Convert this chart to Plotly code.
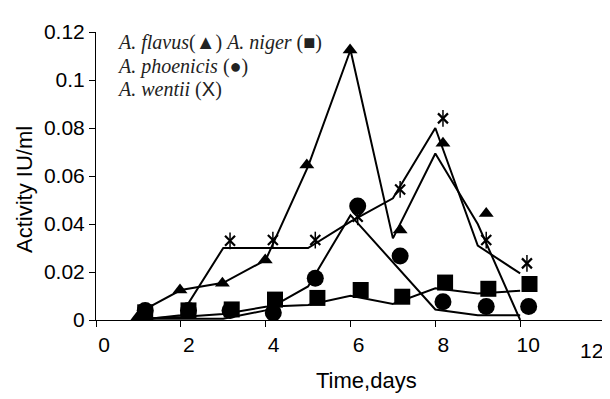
import plotly.graph_objects as go

# ---- data ----
days = [1, 2, 3, 4, 5, 6, 7, 8, 9, 10]

# connecting lines (one value per day)
flavus_line = [0.003, 0.0125, 0.0155, 0.025, 0.064, 0.1125, 0.034, 0.0694, 0.040, 0.0]
niger_line = [0.0005, 0.0012, 0.0025, 0.0055, 0.0063, 0.0101, 0.0067, 0.0132, 0.011, 0.0122]
phoenicis_line = [0.0005, 0.0005, 0.0005, 0.004, 0.014, 0.0437, 0.024, 0.0044, 0.002, 0.002]
wentii_line = [0.0, 0.002, 0.030, 0.030, 0.030, 0.041, 0.0507, 0.080, 0.031, 0.0194]

# plotted symbols (as positioned in the original figure)
flavus_mx = [0.96, 1.98, 2.98, 3.99, 4.97, 5.99, 7.17, 8.18, 9.2]
flavus_my = [0.0007, 0.0125, 0.0153, 0.025, 0.0646, 0.1125, 0.0375, 0.0736, 0.0444]
niger_mx = [1.16, 2.18, 3.2, 4.22, 5.22, 6.24, 7.22, 8.23, 9.25, 10.22]
niger_my = [0.0032, 0.004, 0.0044, 0.0085, 0.0092, 0.0125, 0.0097, 0.0156, 0.013, 0.015]
phoenicis_mx = [1.16, 2.18, 3.16, 4.18, 5.17, 6.17, 7.17, 8.18, 9.2, 10.2]
phoenicis_my = [0.004, 0.004, 0.004, 0.003, 0.0174, 0.0475, 0.0267, 0.0076, 0.0056, 0.0056]
wentii_mx = [3.16, 4.17, 5.17, 6.17, 7.17, 8.18, 9.2, 10.16]
wentii_my = [0.033, 0.0333, 0.0333, 0.043, 0.0544, 0.084, 0.0333, 0.0236]

x_ticks = [0, 2, 4, 6, 8, 10, 12]
x_ticktext = ["0", "2", "4", "6", "8", "10", ""]
y_ticks = [0, 0.02, 0.04, 0.06, 0.08, 0.1, 0.12]
y_ticktext = ["0", "0.02", "0.04", "0.06", "0.08", "0.1", "0.12"]

legend_lines = [
    "<i>A. flavus</i>(▲) <i>A. niger</i> (■)",
    "<i>A. phoenicis</i> (●)",
    "<i>A. wentii</i> (<span style='font-family:Liberation Sans'>X</span>)",
]

BLACK = "black"
fig = go.Figure()

for ys in [flavus_line, niger_line, phoenicis_line, wentii_line]:
    fig.add_trace(go.Scatter(x=days, y=ys, mode="lines",
                             line=dict(color=BLACK, width=2), hoverinfo="skip"))

fig.add_trace(go.Scatter(x=phoenicis_mx, y=phoenicis_my, mode="markers",
                         marker=dict(symbol="circle", size=17, color=BLACK)))
fig.add_trace(go.Scatter(x=niger_mx, y=niger_my, mode="markers",
                         marker=dict(symbol="square", size=16, color=BLACK)))
fig.add_trace(go.Scatter(x=flavus_mx, y=flavus_my, mode="markers",
                         marker=dict(symbol="triangle-up", size=13, color=BLACK)))
fig.add_trace(go.Scatter(x=wentii_mx, y=wentii_my, mode="markers",
                         marker=dict(symbol="x-thin-open", size=10, color=BLACK,
                                     line=dict(color=BLACK, width=2.2))))
fig.add_trace(go.Scatter(x=wentii_mx, y=wentii_my, mode="markers",
                         marker=dict(symbol="line-ns-open", size=12, color=BLACK,
                                     line=dict(color=BLACK, width=1.5))))

# page has an 8px body margin; work in reference pixels and compensate
OFF = 8
W, H = 610 - OFF, 399 - OFF
PL, PR, PT, PB = 96, 605, 32, 320           # plot box in reference pixels
pl, pt = PL - OFF, PT - OFF
pw, ph = PR - PL, PB - PT
pr = W - pl - pw
pb = H - pt - ph


def px(x):
    return (x - PL) / pw


def py(y):
    return 1 - (y - PT) / ph


annotations = []
for i, t in enumerate(legend_lines):
    annotations.append(dict(x=px(115), y=py(43 + 23.5 * i), xref="paper", yref="paper",
                            text=t, showarrow=False, xanchor="left", yanchor="middle",
                            font=dict(family="Liberation Serif", size=20, color="#222")))
annotations.append(dict(x=12, y=py(350), xref="x", yref="paper", text="12",
                        showarrow=False, xanchor="right", yanchor="middle",
                        font=dict(family="Liberation Sans", size=21, color=BLACK)))
annotations.append(dict(x=px(366), y=py(380), xref="paper", yref="paper",
                        text="Time,days", showarrow=False, xanchor="center", yanchor="middle",
                        font=dict(family="Liberation Sans", size=22, color=BLACK)))
annotations.append(dict(x=px(24), y=py(190), xref="paper", yref="paper",
                        text="Activity IU/ml", showarrow=False, textangle=-90,
                        xanchor="center", yanchor="middle",
                        font=dict(family="Liberation Sans", size=22, color=BLACK)))

fig.update_layout(
    width=W, height=H,
    margin=dict(l=pl, r=pr, t=pt, b=pb, autoexpand=False),
    paper_bgcolor="white", plot_bgcolor="white",
    showlegend=False,
    font=dict(family="Liberation Sans", size=21, color=BLACK),
    xaxis=dict(range=[0, 12], tickvals=x_ticks, ticktext=x_ticktext,
               showgrid=False, zeroline=False, showline=True, linecolor=BLACK,
               linewidth=1, ticks="outside", ticklen=6, tickcolor=BLACK,
               ticklabelshift=8, ticklabelstandoff=0),
    yaxis=dict(range=[0, 0.12], tickvals=y_ticks, ticktext=y_ticktext,
               showgrid=False, zeroline=False, showline=True, linecolor=BLACK,
               linewidth=1, ticks="outside", ticklen=6, tickcolor=BLACK),
    annotations=annotations,
)

fig.write_html("out.html")
